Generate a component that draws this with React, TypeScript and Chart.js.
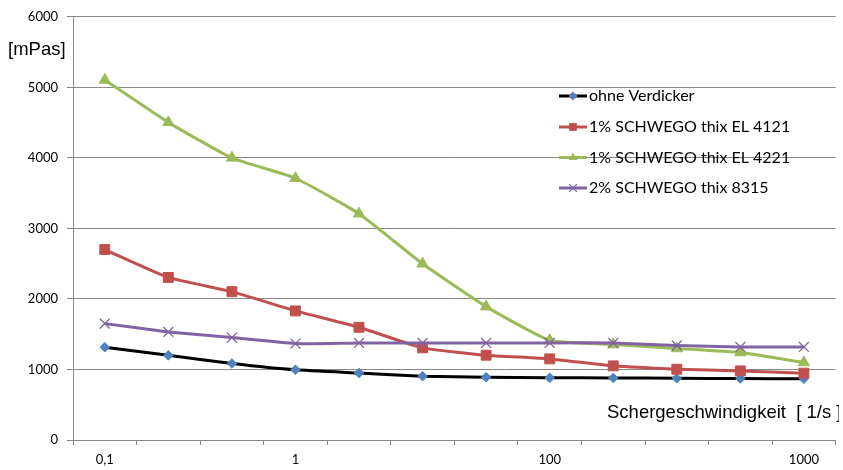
import React, { useEffect, useRef } from "react";
import { Chart, registerables } from "chart.js";

Chart.register(...registerables);

const categories = ["0,1", "", "", "1", "", "", "", "100", "", "", "", "1000"];
const seriesNames = [
  "ohne Verdicker",
  "1% SCHWEGO thix EL 4121",
  "1% SCHWEGO thix EL 4221",
  "2% SCHWEGO thix 8315",
];
const ohneVerdicker = [1315, 1200, 1085, 995, 950, 905, 890, 882, 880, 875, 872, 868];
const el4121 = [2700, 2305, 2103, 1830, 1598, 1306, 1202, 1150, 1051, 1004, 980, 948];
const el4221 = [5105, 4503, 4000, 3711, 3208, 2499, 1891, 1414, 1353, 1297, 1240, 1099];
const thix8315 = [1650, 1532, 1452, 1367, 1376, 1376, 1376, 1376, 1376, 1340, 1320, 1320];
const yTicks = [0, 1000, 2000, 3000, 4000, 5000, 6000];
const yUnit = "[mPas]";
const xTitle = "Schergeschwindigkeit  [ 1/s ]";

const GRID = "#878787";
const LINE_COLORS = ["#000000", "#C0504D", "#9BBB59", "#8064A2"];
const MARK_COLORS = ["#4F81BD", "#C0504D", "#9BBB59", "#8064A2"];
const STYLES = ["rectRot", "rect", "triangle", "crossRot"];
const RADII = [4.8, 7, 6.5, 7];
const LEGEND_RADII = [4.5, 5.5, 5, 5.5];

function drawMarker(ctx: CanvasRenderingContext2D, style: string, cx: number, cy: number, r: number, color: string) {
  ctx.save();
  ctx.fillStyle = color;
  ctx.strokeStyle = color;
  ctx.lineWidth = 1.3;
  ctx.beginPath();
  if (style === "rectRot") {
    ctx.moveTo(cx, cy - r);
    ctx.lineTo(cx + r, cy);
    ctx.lineTo(cx, cy + r);
    ctx.lineTo(cx - r, cy);
    ctx.closePath();
    ctx.fill();
  } else if (style === "rect") {
    const s = r * Math.SQRT1_2;
    ctx.rect(cx - s, cy - s, 2 * s, 2 * s);
    ctx.fill();
  } else if (style === "triangle") {
    ctx.moveTo(cx, cy - r);
    ctx.lineTo(cx + r * 0.866, cy + r / 2);
    ctx.lineTo(cx - r * 0.866, cy + r / 2);
    ctx.closePath();
    ctx.fill();
  } else {
    const s = r * Math.SQRT1_2;
    ctx.moveTo(cx - s, cy - s);
    ctx.lineTo(cx + s, cy + s);
    ctx.moveTo(cx + s, cy - s);
    ctx.lineTo(cx - s, cy + s);
    ctx.stroke();
  }
  ctx.restore();
}

export default function App() {
  const ref = useRef<HTMLCanvasElement>(null);

  useEffect(() => {
    if (!ref.current) return;
    const values = [ohneVerdicker, el4121, el4221, thix8315];

    const overlay = {
      id: "overlay",
      afterDraw(chart: any) {
        const ctx = chart.ctx as CanvasRenderingContext2D;
        ctx.save();
        ctx.fillStyle = "#000";
        ctx.font = "18.5px 'Liberation Sans', Arial, sans-serif";
        ctx.textAlign = "left";
        ctx.textBaseline = "middle";
        ctx.fillText(yUnit, 8, 50);
        ctx.save();
        ctx.beginPath();
        ctx.rect(600, 395, 239, 36);
        ctx.clip();
        ctx.fillText(xTitle, 607, 413);
        ctx.restore();

        // legend
        const lx0 = 559;
        const lx1 = 587;
        const rowY = [96, 127, 157.5, 188];
        ctx.font = "16px Lato, sans-serif";
        seriesNames.forEach((name, i) => {
          const y = rowY[i];
          ctx.strokeStyle = LINE_COLORS[i];
          ctx.lineWidth = 3;
          ctx.beginPath();
          ctx.moveTo(lx0, y);
          ctx.lineTo(lx1, y);
          ctx.stroke();
          const cx = (lx0 + lx1) / 2;
          drawMarker(ctx, STYLES[i], cx, y, LEGEND_RADII[i], MARK_COLORS[i]);
          ctx.fillStyle = "#000";
          ctx.fillText(name, 589, y);
        });
        ctx.restore();
      },
    };

    const chart = new Chart(ref.current, {
      type: "line",
      data: {
        labels: categories,
        datasets: values.map((v, i) => ({
          label: seriesNames[i],
          data: v,
          borderColor: LINE_COLORS[i],
          borderWidth: 3,
          backgroundColor: MARK_COLORS[i],
          pointBackgroundColor: MARK_COLORS[i],
          pointBorderColor: MARK_COLORS[i],
          pointBorderWidth: i === 3 ? 1.3 : 1,
          pointStyle: STYLES[i] as any,
          pointRadius: RADII[i],
          tension: 0.15,
          fill: false,
          order: 4 - i,
        })),
      },
      options: {
        animation: false,
        responsive: false,
        devicePixelRatio: 1,
        layout: { padding: { top: 16, left: 0, right: 0, bottom: 0 } },
        plugins: {
          legend: { display: false },
          tooltip: { enabled: false },
        },
        scales: {
          x: {
            type: "category",
            offset: true,
            afterFit(scale: any) {
              scale.height = 30;
            },
            grid: {
              offset: true,
              drawOnChartArea: false,
              drawTicks: true,
              tickLength: 5,
              color: GRID,
              tickColor: GRID,
            },
            border: { display: true, color: GRID, width: 1 },
            ticks: {
              autoSkip: false,
              maxRotation: 0,
              minRotation: 0,
              padding: 7,
              color: "#000",
              font: { family: "Lato, sans-serif", size: 13 },
            },
          },
          y: {
            min: 0,
            max: 6000,
            afterFit(scale: any) {
              scale.width = 73;
            },
            afterBuildTicks(scale: any) {
              scale.ticks = yTicks.map((v) => ({ value: v }));
            },
            grid: {
              color: GRID,
              tickColor: GRID,
              tickLength: 6,
              drawTicks: true,
            },
            border: { display: true, color: GRID, width: 1 },
            ticks: {
              padding: 9,
              color: "#000",
              font: { family: "Lato, sans-serif", size: 13 },
              callback: (v: any) => String(v),
            },
          },
        },
      },
      plugins: [overlay],
    });
    return () => chart.destroy();
  }, []);

  return (
    <div style={{ position: "absolute", left: 0, top: 0, width: 843, height: 470, overflow: "hidden", background: "#fff" }}>
      <canvas ref={ref} width={844} height={470} style={{ display: "block", width: 844, height: 470 }} />
    </div>
  );
}
